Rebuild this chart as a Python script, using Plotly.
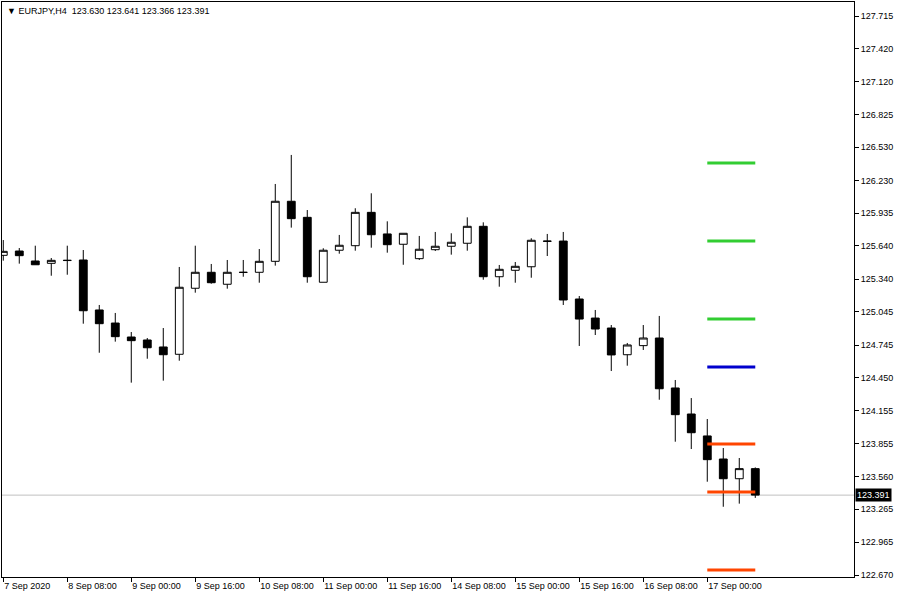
import plotly.graph_objects as go

symbol = "EURJPY,H4"
bar_index = list(range(48))
opens = [125.555, 125.594, 125.504, 125.483, 125.508, 125.513, 125.062, 124.944, 124.818, 124.791,
         124.728, 124.662, 125.258, 125.402, 125.294, 125.400, 125.402, 125.501, 126.043, 125.898,
         125.312, 125.601, 125.642, 125.943, 125.748, 125.655, 125.525, 125.606, 125.637, 125.664,
         125.817, 125.362, 125.420, 125.452, 125.684, 125.684, 125.161, 124.989, 124.899, 124.658,
         124.740, 124.809, 124.358, 124.123, 123.925, 123.717, 123.539, 123.630]
highs = [125.693, 125.621, 125.642, 125.531, 125.642, 125.603, 125.107, 125.035, 124.863, 124.809,
         124.899, 125.450, 125.642, 125.477, 125.513, 125.513, 125.612, 126.199, 126.461, 125.964,
         125.619, 125.739, 125.980, 126.115, 125.862, 125.754, 125.730, 125.766, 125.754, 125.898,
         125.853, 125.468, 125.495, 125.709, 125.748, 125.766, 125.188, 125.062, 124.926, 124.764,
         124.926, 125.008, 124.430, 124.267, 124.078, 123.816, 123.726, 123.641]
lows = [125.507, 125.480, 125.470, 125.371, 125.380, 124.938, 124.676, 124.776, 124.406, 124.622,
        124.424, 124.604, 125.218, 125.299, 125.254, 125.362, 125.308, 125.462, 125.805, 125.308,
        125.312, 125.570, 125.597, 125.624, 125.579, 125.470, 125.513, 125.594, 125.561, 125.597,
        125.335, 125.272, 125.308, 125.353, 125.549, 125.107, 124.737, 124.836, 124.511, 124.559,
        124.701, 124.252, 123.873, 123.807, 123.512, 123.286, 123.314, 123.366]
closes = [125.591, 125.552, 125.470, 125.510, 125.510, 125.055, 124.938, 124.821, 124.785, 124.721,
          124.658, 125.267, 125.402, 125.308, 125.402, 125.402, 125.501, 126.043, 125.886, 125.362,
          125.601, 125.646, 125.943, 125.741, 125.651, 125.754, 125.610, 125.637, 125.673, 125.817,
          125.362, 125.429, 125.456, 125.691, 125.682, 125.152, 124.980, 124.890, 124.656, 124.746,
          124.809, 124.351, 124.117, 123.954, 123.711, 123.539, 123.630, 123.391]

x_tick_index = [0, 4, 8, 12, 16, 20, 24, 28, 32, 36, 40, 44]
x_tick_text = ["7 Sep 2020", "8 Sep 08:00", "9 Sep 00:00", "9 Sep 16:00", "10 Sep 08:00",
               "11 Sep 00:00", "11 Sep 16:00", "14 Sep 08:00", "15 Sep 00:00", "15 Sep 16:00",
               "16 Sep 08:00", "17 Sep 00:00"]
y_tick_values = [127.715, 127.420, 127.120, 126.825, 126.530, 126.230, 125.935, 125.640, 125.340,
                 125.045, 124.745, 124.450, 124.155, 123.855, 123.560, 123.265, 122.965, 122.670]

level_names = ["R3", "R2", "R1", "PP", "S1", "S2", "S3"]
level_values = [126.388, 125.684, 124.980, 124.547, 123.852, 123.419, 122.715]
level_colors = ["#32CD32", "#32CD32", "#32CD32", "#0000CD", "#FF4500", "#FF4500", "#FF4500"]
level_start_bar = 44
level_end_bar = 47

FONT = "Liberation Sans"

fig = go.Figure()
fig.add_trace(go.Candlestick(
    x=bar_index, open=opens, high=highs, low=lows, close=closes,
    increasing=dict(fillcolor="white", line=dict(color="black", width=1)),
    decreasing=dict(fillcolor="black", line=dict(color="black", width=1)),
    whiskerwidth=0, showlegend=False, hoverinfo="skip"))

for name, val, col in zip(level_names, level_values, level_colors):
    fig.add_trace(go.Scatter(x=[level_start_bar, level_end_bar], y=[val, val], mode="lines",
                             line=dict(color=col, width=3), name=name, showlegend=False,
                             hoverinfo="skip"))

last_close = closes[-1]
fig.add_shape(type="line", xref="paper", x0=0, x1=1, yref="y", y0=last_close, y1=last_close,
              line=dict(color="#C0C0C0", width=1), layer="below")

fig.add_annotation(xref="paper", x=1, xanchor="left", xshift=1, yref="y", y=last_close,
                   yanchor="middle", text=f"{last_close:.3f}", showarrow=False,
                   font=dict(family=FONT, size=9, color="white"), bgcolor="black",
                   borderpad=1)

header = (f"\u25BC {symbol}\u00a0\u00a0{opens[-1]:.3f} {highs[-1]:.3f} "
          f"{lows[-1]:.3f} {closes[-1]:.3f}")
fig.add_annotation(xref="paper", yref="paper", x=0, y=1, xanchor="left", yanchor="top",
                   xshift=3, yshift=-2, text=header, showarrow=False,
                   font=dict(family=FONT, size=9, color="black"))

fig.update_layout(
    width=900, height=600,
    margin=dict(l=2, r=46, t=2, b=23, autoexpand=False),
    paper_bgcolor="white", plot_bgcolor="white",
    font=dict(family=FONT, size=9, color="black"),
    xaxis=dict(range=[-0.08, 53.17], tickmode="array", tickvals=x_tick_index,
               ticktext=x_tick_text, ticks="outside", ticklen=4, tickcolor="black",
               ticklabelposition="outside right", showgrid=False, zeroline=False,
               showline=True, linecolor="black", linewidth=1, mirror=True,
               rangeslider=dict(visible=False), fixedrange=True, automargin=False),
    yaxis=dict(range=[122.652, 127.8414], side="right", tickmode="array",
               tickvals=y_tick_values, ticktext=[f"{v:.3f}" for v in y_tick_values],
               ticks="outside", ticklen=4, tickcolor="black", showgrid=False,
               zeroline=False, showline=True, linecolor="black", linewidth=1, mirror=True,
               fixedrange=True, automargin=False),
)

fig.write_html("out.html", config={"displayModeBar": False},
               post_script="document.body.style.margin='0';document.body.style.padding='0';")
